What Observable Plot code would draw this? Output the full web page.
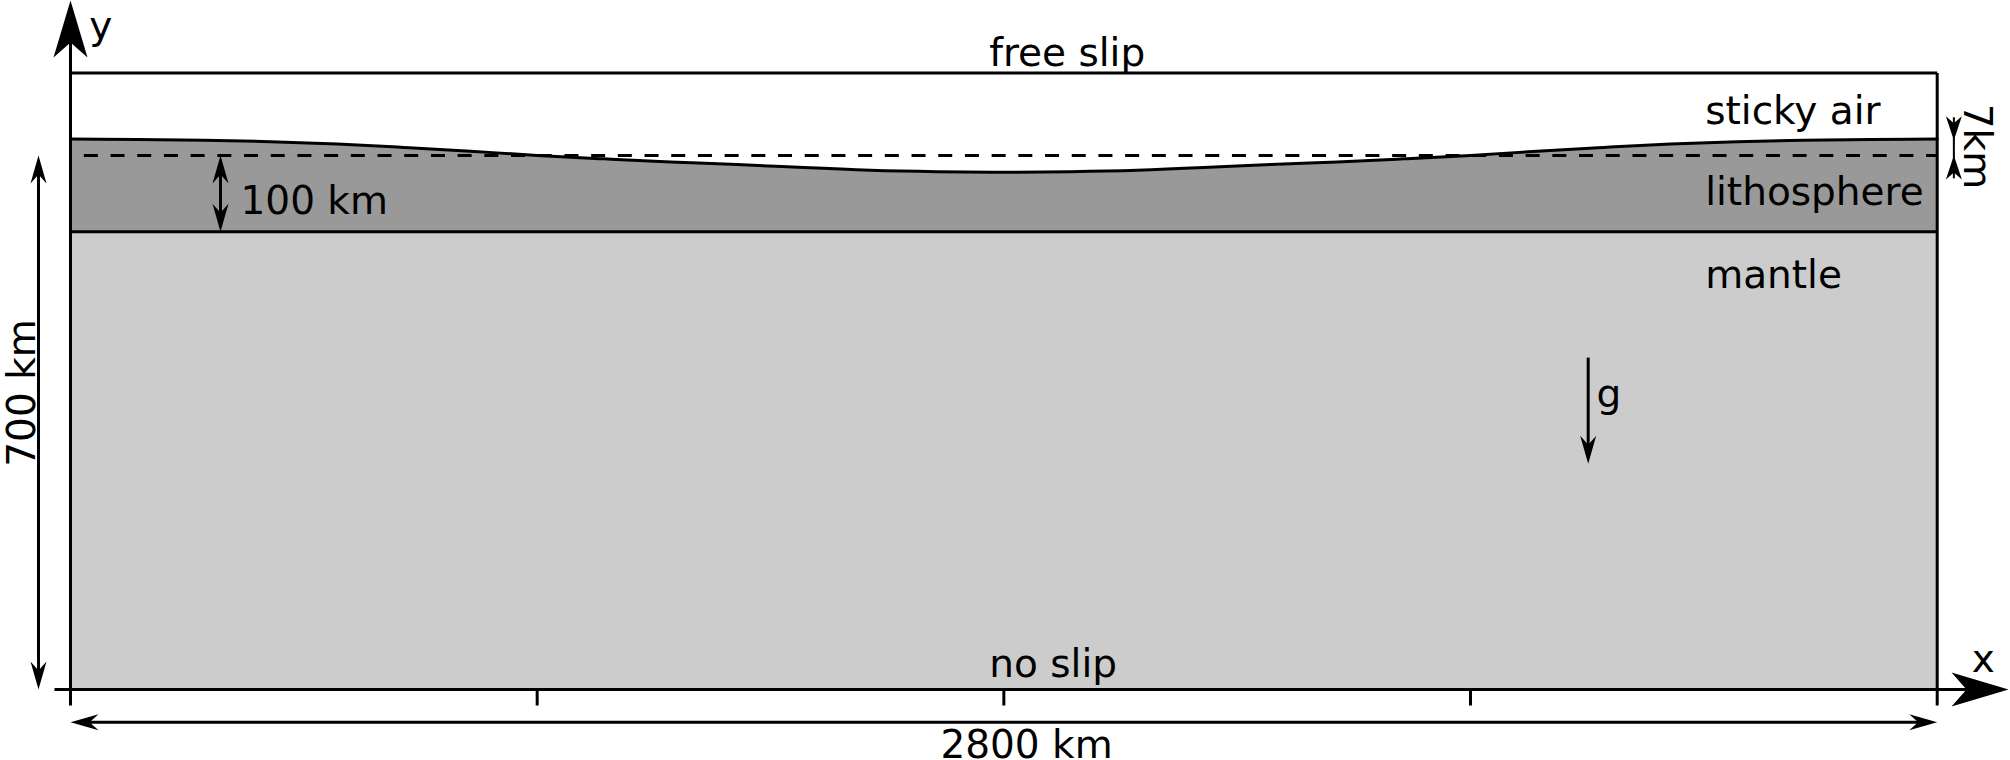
<!DOCTYPE html>
<html>
<head>
<meta charset="utf-8">
<script src="https://cdn.jsdelivr.net/npm/d3@7"></script>
<script src="https://cdn.jsdelivr.net/npm/@observablehq/plot@0.6"></script>
<style>
  html, body { margin: 0; padding: 0; background: #fff; }
  svg { display: block; }
</style>
</head>
<body>
<div id="chart"></div>
<script>
// ---- data (km) ----
const domainX = [0, 2800];          // model width
const domainY = [0, 808];           // model height incl. sticky air
const mantleTop = 600;              // base of lithosphere
const refLevel = 700;               // undeformed surface (dashed)
const surfaceX = [0,100,200,300,400,500,600,700,800,900,1000,1100,1200,1300,1400,
                  1500,1600,1700,1800,1900,2000,2100,2200,2300,2400,2500,2600,2700,2800];
const surfaceY = [721.5,721,720,718,715,710.5,705.5,700,695.5,691.5,688,684,680.5,678.7,678,
                  678.7,680.5,684,688,691.5,695.5,700,705.5,710.5,715,718,720,721,721.5];
const tickX = [700, 1400, 2100];

const frameSegs = [
  {x1: 0, y1: 808, x2: 2800, y2: 808},     // top boundary
  {x1: 2800, y1: -21, x2: 2800, y2: 808},  // right wall
  {x1: 0, y1: -21, x2: 0, y2: 858},        // y axis
  {x1: -24, y1: 0, x2: 2856, y2: 0},       // x axis
  {x1: 0, y1: 600, x2: 2800, y2: 600}      // lithosphere base
];
const dimSegs = [
  {x1: 24, y1: -43, x2: 2776, y2: -43},        // 2800 km
  {x1: -48, y1: 21, x2: -48, y2: 679},         // 700 km
  {x1: 225, y1: 621, x2: 225, y2: 679},        // 100 km
  {x1: 2276.5, y1: 435, x2: 2276.5, y2: 317}   // g
];
const thinSegs = [{x1: 2825, y1: 670, x2: 2825, y2: 750}]; // 7 km
const dashSeg = [{x1: 20, y1: 700, x2: 2800, y2: 700}];

const bigHeads = [{x: 0, y: 903, dir: "up"}, {x: 2907, y: 0, dir: "right"}];
const smallHeads = [
  {x: 0, y: -43, dir: "left"}, {x: 2800, y: -43, dir: "right"},
  {x: -48, y: 700, dir: "up"}, {x: -48, y: 0, dir: "down"},
  {x: 225, y: 700, dir: "up"}, {x: 225, y: 600, dir: "down"},
  {x: 2276.5, y: 296, dir: "down"}
];
const tinyHeads = [{x: 2825, y: 720, dir: "down"}, {x: 2825, y: 700, dir: "up"}];

const labelsMiddle = [
  {text: "free slip", x: 1495, y: 833},
  {text: "no slip", x: 1474, y: 32.5},
  {text: "2800 km", x: 1434, y: -73.5}
];
const labelsStart = [
  {text: "sticky air", x: 2452, y: 758},
  {text: "lithosphere", x: 2452, y: 651},
  {text: "mantle", x: 2452, y: 542},
  {text: "100 km", x: 255, y: 640},
  {text: "g", x: 2289, y: 387},
  {text: "y", x: 28, y: 869},
  {text: "x", x: 2852, y: 39}
];
const labelUp = [{text: "700 km", x: -72.7, y: 388.6}];
const labelDown = [{text: "7km", x: 2858.7, y: 711.7}];

// ---- helpers ----
function headSymbol(dir, L, W, N) {
  const base = [[0, 0], [W, L], [0, L - N], [-W, L]];
  const rot = {
    up: ([x, y]) => [x, y],
    down: ([x, y]) => [-x, -y],
    right: ([x, y]) => [-y, x],
    left: ([x, y]) => [y, -x]
  }[dir];
  const pts = base.map(rot);
  return {
    draw(ctx) {
      ctx.moveTo(pts[0][0], pts[0][1]);
      for (let i = 1; i < pts.length; i++) ctx.lineTo(pts[i][0], pts[i][1]);
      ctx.closePath();
    }
  };
}
function headMarks(data, L, W, N) {
  return ["up", "down", "left", "right"].map(d =>
    Plot.dot(data.filter(h => h.dir === d), {
      x: "x", y: "y", symbol: headSymbol(d, L, W, N), fill: "black", stroke: "none", r: 5
    })
  );
}

const surface = surfaceX.map((x, i) => ({x, y: surfaceY[i]}));
const font = {fontFamily: "DejaVu Sans", fontSize: 39, fill: "black"};

const chart = Plot.plot({
  width: 2010,
  height: 760,
  marginTop: 72.5,
  marginBottom: 71,
  marginLeft: 70,
  marginRight: 73.3,
  x: {domain: domainX, axis: null},
  y: {domain: domainY, axis: null},
  style: {background: "white", fontFamily: "DejaVu Sans", overflow: "visible"},
  marks: [
    Plot.rect([{x1: domainX[0], x2: domainX[1], y1: 0, y2: mantleTop}],
      {x1: "x1", x2: "x2", y1: "y1", y2: "y2", fill: "#cccccc"}),
    Plot.areaY(surface, {x: "x", y1: mantleTop, y2: "y", fill: "#999999", curve: "natural"}),
    Plot.link(dashSeg, {x1: "x1", y1: "y1", x2: "x2", y2: "y2", stroke: "black",
      strokeWidth: 3, strokeDasharray: "14,12.7"}),
    Plot.line(surface, {x: "x", y: "y", stroke: "black", strokeWidth: 3, curve: "natural"}),
    Plot.link(frameSegs, {x1: "x1", y1: "y1", x2: "x2", y2: "y2", stroke: "black", strokeWidth: 3}),
    Plot.link(tickX, {x1: d => d, x2: d => d, y1: 0, y2: -21, stroke: "black", strokeWidth: 3}),
    Plot.link(dimSegs, {x1: "x1", y1: "y1", x2: "x2", y2: "y2", stroke: "black", strokeWidth: 3}),
    Plot.link(thinSegs, {x1: "x1", y1: "y1", x2: "x2", y2: "y2", stroke: "black", strokeWidth: 2}),
    ...headMarks(bigHeads, 57, 17, 15),
    ...headMarks(smallHeads, 28, 8, 9),
    ...headMarks(tinyHeads, 24, 8, 7),
    Plot.text(labelsMiddle, {x: "x", y: "y", text: "text", textAnchor: "middle", ...font}),
    Plot.text(labelsStart, {x: "x", y: "y", text: "text", textAnchor: "start", ...font}),
    Plot.text(labelUp, {x: "x", y: "y", text: "text", rotate: -90, ...font}),
    Plot.text(labelDown, {x: "x", y: "y", text: "text", rotate: 90, ...font})
  ]
});
document.getElementById("chart").appendChild(chart);
</script>
</body>
</html>
